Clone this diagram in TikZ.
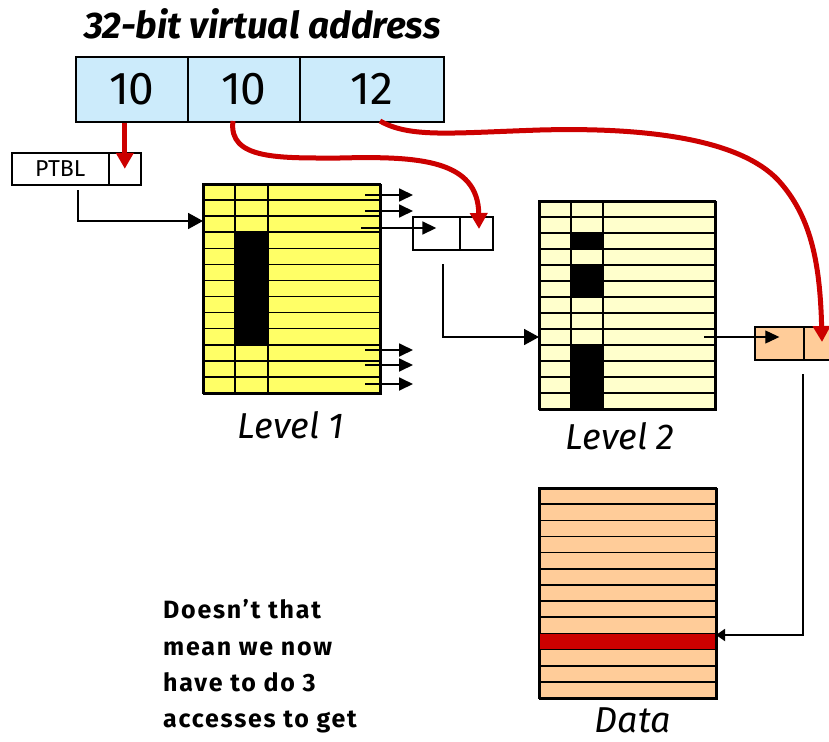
\documentclass[tikz,border=0pt]{standalone}
\usepackage{fontspec}
\setmainfont{Fira Sans}
\usetikzlibrary{arrows.meta,calc}
\definecolor{addrblue}{HTML}{CCEBFB}
\definecolor{lvlone}{HTML}{FFFF66}
\definecolor{lvltwo}{HTML}{FFFFCC}
\definecolor{pageorange}{HTML}{FFCC99}
\definecolor{hotred}{HTML}{CC0000}
\begin{document}
\begin{tikzpicture}[x=1pt,y=-1pt,
  cell/.style={draw=black, line width=1.6pt, inner sep=0pt, anchor=north west},
  gridline/.style={line width=1.6pt, black},
  conn/.style={line width=1.8pt, black},
  thinconn/.style={line width=1.1pt, black},
  tipsmall/.style={-{Triangle[length=14pt,width=13pt]}},
  tipbig/.style={-{Triangle[length=15pt,width=16pt]}},
  tipdata/.style={-{Triangle[length=9pt,width=12pt]}},
  redarrow/.style={line width=5pt, hotred, -{Triangle[length=16pt,width=17pt]}},
  caption/.style={anchor=base, inner sep=0pt, font=\fontsize{36}{40}\selectfont\itshape},
  remark/.style={anchor=base west, inner sep=0pt, font=\fontsize{25}{28}\selectfont\bfseries\addfontfeature{LetterSpace=7}},
]
\useasboundingbox (0,0) rectangle (829,741);
\clip (0,0) rectangle (829,741);

% title and the three address fields
\node[anchor=base, font=\fontsize{37}{40}\selectfont\bfseries\itshape] (title) at (262.5,39) {32-bit virtual address};
\node[cell, fill=addrblue, minimum width=112pt, minimum height=65pt, font=\fontsize{46}{48}\selectfont] (a1) at (75,56) {10};
\node[cell, fill=addrblue, minimum width=112pt, minimum height=65pt, font=\fontsize{46}{48}\selectfont] (a2) at (187,56) {10};
\node[cell, fill=addrblue, minimum width=144pt, minimum height=65pt, font=\fontsize{46}{48}\selectfont] (a3) at (299,56) {12};

% page table base register
\node[cell, fill=white, minimum width=97pt, minimum height=32pt, font=\fontsize{23}{25}\selectfont] (ptblL) at (11,152) {PTBL};
\node[cell, fill=white, minimum width=32pt, minimum height=32pt] (ptblR) at (108,152) {};

% level 1 table
\node[cell, fill=lvlone, minimum width=177pt, minimum height=209pt] (l1) at (203,184) {};
\foreach \i in {1,...,12} \draw[gridline] (203,{184+\i*209/13}) -- (380,{184+\i*209/13});
\draw[gridline] (235,184) -- (235,393);
\draw[gridline] (268,184) -- (268,393);
\fill[black] (235,{184+3*209/13}) rectangle (268,{184+10*209/13});
\draw[line width=1.6pt] (203,184) rectangle (380,393);

% pointer entry between the levels
\node[cell, fill=white, minimum width=47pt, minimum height=33pt] (b1L) at (412,216) {};
\node[cell, fill=white, minimum width=33pt, minimum height=33pt] (b1R) at (459,216) {};

% level 2 table
\node[cell, fill=lvltwo, minimum width=176pt, minimum height=208pt] (l2) at (539,201) {};
\foreach \i in {1,...,12} \draw[gridline] (539,{201+\i*16}) -- (715,{201+\i*16});
\draw[gridline] (571,201) -- (571,409);
\draw[gridline] (603,201) -- (603,409);
\fill[black] (571,233) rectangle (603,249);
\fill[black] (571,265) rectangle (603,297);
\fill[black] (571,345) rectangle (603,409);
\draw[line width=1.6pt] (539,201) rectangle (715,409);

% page table entry
\node[cell, fill=pageorange, minimum width=49pt, minimum height=33pt] (oL) at (754,326) {};
\node[cell, fill=pageorange, minimum width=49pt, minimum height=33pt] (oR) at (803,326) {};

% data page
\node[cell, fill=pageorange, minimum width=177pt, minimum height=210pt] (dt) at (539,488) {};
\fill[hotred] (539,{488+9*210/13}) rectangle (716,{488+10*210/13});
\foreach \i in {1,...,12} \draw[gridline] (539,{488+\i*210/13}) -- (716,{488+\i*210/13});
\draw[line width=1.6pt] (539,488) rectangle (716,698);

% captions
\node[caption] (cap1) at (291,438) {Level 1};
\node[caption] (cap2) at (620,449) {Level 2};
\node[caption] (cap3) at (633,732) {Data};

% remark
\node[remark] (q1) at (163,618) {Doesn’t that};
\node[remark] (q2) at (163,655) {mean we now};
\node[remark] (q3) at (163,691) {have to do 3};
\node[remark] (q4) at (163,727) {accesses to get};

% black pointers
\coordinate (p0) at (78,190);
\coordinate (l1in) at (203,221);
\draw[conn,tipbig] (p0) |- (l1in);
\foreach \yy in {195,211,350,365,384} {
  \coordinate (fr) at (365,\yy);
  \coordinate (to) at (413,\yy);
  \draw[conn,tipsmall] (fr) -- (to);
}
\coordinate (l1r2) at (361,228);
\draw[conn,tipsmall] (l1r2) -- (l1r2 -| b1L.center);
\coordinate (b1d) at (443,264);
\coordinate (l2in) at (539,337);
\draw[conn,tipbig] (b1d) |- (l2in);
\coordinate (l2r8) at (704,337);
\draw[thinconn,tipsmall] (l2r8) -- (l2r8 -| oL.center);
\coordinate (od) at (803,374);
\coordinate (dtin) at (716,635);
\draw[conn,tipdata] (od) |- (dtin);

% red index arrows
\draw[redarrow] (a1.south -| ptblR) -- (ptblR.center);
\coordinate (r2s) at (233,121);
\coordinate (r2e) at (479,229);
\draw[redarrow] (r2s) .. controls (228,160) and (280,158) .. (340,158)
  .. controls (420,156) and (478,160) .. (r2e);
\coordinate (r3s) at (380,121);
\coordinate (r3e) at (822,342);
\draw[redarrow] (r3s) .. controls (410,138) and (450,133) .. (540,130)
  .. controls (650,127) and (740,140) .. (778,180)
  .. controls (810,215) and (820,260) .. (r3e);
\end{tikzpicture}
\end{document}
